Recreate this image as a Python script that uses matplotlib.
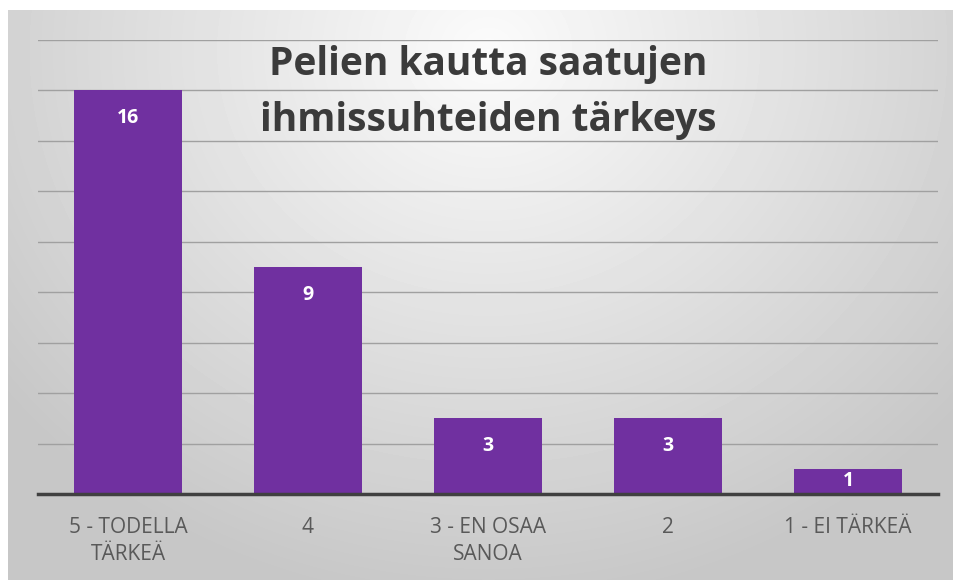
import matplotlib.pyplot as plt
import numpy as np

# data
kategoriat = ['5 - TODELLA\nTÄRKEÄ', '4', '3 - EN OSAA\nSANOA', '2', '1 - EI TÄRKEÄ']
arvot = [16, 9, 3, 3, 1]
otsikko = ['Pelien kautta saatujen', 'ihmissuhteiden tärkeys']

plt.rcParams['font.family'] = ['Open Sans', 'DejaVu Sans']

W, H = 954, 580
fig = plt.figure(figsize=(W / 100, H / 100), dpi=100)
fig.patch.set_facecolor('white')

# harmaa liukuväri taustaksi
bg = fig.add_axes([8 / W, 0, 1 - 8 / W, (H - 10) / H])
yy, xx = np.mgrid[0:570, 0:946]
r = np.sqrt(((xx - 480) / 600.0) ** 2 + ((yy - 40) / 540.0) ** 2)
shade = np.clip(0.985 - 0.2 * r, 0.78, 1.0)
bg.imshow(shade, cmap='gray', vmin=0, vmax=1, aspect='auto', interpolation='bilinear')
bg.axis('off')

# pylväät
ax = fig.add_axes([38 / W, (H - 494) / H, 900 / W, 454 / H])
ax.patch.set_alpha(0)
x = np.arange(len(arvot))
bars = ax.bar(x, arvot, width=0.6, color='#7030a0', zorder=3)
ax.set_xlim(-0.5, len(arvot) - 0.5)
ax.set_ylim(0, 18)
ax.set_yticks(np.arange(2, 19, 2))
ax.yaxis.grid(True, color='#a0a0a0', linewidth=1.0, zorder=0)
ax.tick_params(axis='y', left=False, labelleft=False)
ax.tick_params(axis='x', bottom=False, pad=13, labelsize=15, labelcolor='#595959')
ax.set_xticks(x)
ax.set_xticklabels(kategoriat, linespacing=1.4, multialignment='center')
for s in ['top', 'right', 'left']:
    ax.spines[s].set_visible(False)
ax.spines['bottom'].set_color('#404040')
ax.spines['bottom'].set_linewidth(2.5)
ax.spines['bottom'].set_zorder(4)

# arvot pylväiden sisään
px_per_unit = 454 / 18
for xi, v in zip(x, arvot):
    off = min(28, v * px_per_unit / 2)
    ax.annotate(str(v), (xi, v), xytext=(0, -off * 0.72), textcoords='offset points',
                ha='center', va='center', color='white', fontsize=14,
                fontweight='bold', zorder=5)

# otsikko
for rivi, yb in zip(otsikko, [75, 131]):
    fig.text(488 / W, 1 - yb / H, rivi, ha='center', va='baseline', fontsize=28,
             fontweight='bold', color='#3b3b3b')

fig.savefig('out.png', dpi=100)
